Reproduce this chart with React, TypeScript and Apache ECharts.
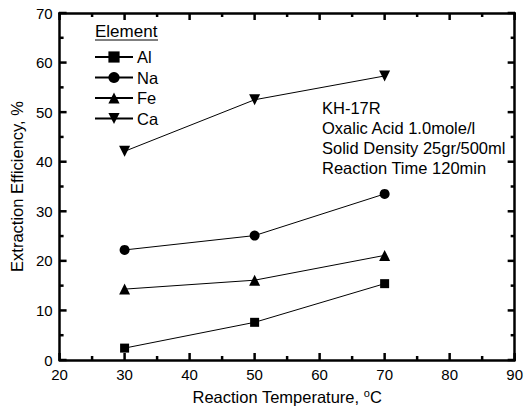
import React, { useEffect, useRef } from "react";
import * as echarts from "echarts";

const temperatures = [30, 50, 70];
const alValues = [2.4, 7.6, 15.4];
const naValues = [22.2, 25.1, 33.5];
const feValues = [14.3, 16.1, 21.1];
const caValues = [42.1, 52.5, 57.3];
const xMajorTicks = [20, 30, 40, 50, 60, 70, 80, 90];
const xMinorTicks = [25, 35, 45, 55, 65, 75, 85];
const yMajorTicks = [0, 10, 20, 30, 40, 50, 60, 70];
const yMinorTicks = [5, 15, 25, 35, 45, 55, 65];
const annotationLines = [
  "KH-17R",
  "Oxalic Acid 1.0mole/l",
  "Solid Density 25gr/500ml",
  "Reaction Time 120min",
];

const FONT = "'Liberation Sans', Arial, sans-serif";
const X_MIN = 20, X_MAX = 90, Y_MIN = 0, Y_MAX = 70;

export default function App() {
  const ref = useRef<HTMLDivElement>(null);
  useEffect(() => {
    if (!ref.current) return;
    const chart = echarts.init(ref.current, null, { renderer: "svg" });
    const pair = (vals: number[]) => temperatures.map((t, i) => [t, vals[i]]);
    const axisParts = () => ({
      axisLine: { show: true, onZero: false, lineStyle: { color: "#000", width: 2.5 } },
      axisTick: { show: false },
      minorTick: { show: false },
      splitLine: { show: false },
    });
    const mk = (name: string, vals: number[], symbol: string, size: number, rotate = 0) => ({
      name,
      type: "line",
      data: pair(vals),
      symbol,
      symbolSize: size,
      symbolRotate: rotate,
      itemStyle: { color: "#000" },
      lineStyle: { color: "#000", width: 1 },
      z: 3,
    });
    const staticGraphics: any[] = [
      {
        type: "text",
        left: 95,
        top: 23,
        style: { text: "Element", fontSize: 17, fontFamily: FONT, fill: "#000" },
      },
      {
        type: "line",
        shape: { x1: 95, y1: 40, x2: 158, y2: 40 },
        style: { stroke: "#000", lineWidth: 1 },
      },
      ...annotationLines.map((t, i) => ({
        type: "text",
        left: 322,
        top: 99 + i * 20,
        style: { text: t, fontSize: 16.5, fontFamily: FONT, fill: "#000" },
      })),
    ];
    chart.setOption({
      animation: false,
      backgroundColor: "#fff",
      textStyle: { fontFamily: FONT },
      grid: { left: 53, right: 10, top: 13, bottom: 56 },
      xAxis: [
        {
          type: "value",
          min: X_MIN,
          max: X_MAX,
          interval: 10,
          position: "bottom",
          ...axisParts(),
          axisLabel: { color: "#000", fontSize: 15, fontFamily: FONT, margin: 7 },
          name: "Reaction Temperature, {sup|o}C",
          nameLocation: "middle",
          nameGap: 27,
          nameTextStyle: {
            color: "#000",
            fontSize: 16.5,
            fontFamily: FONT,
            rich: { sup: { fontSize: 11, verticalAlign: "top", padding: [0, 0, 8, 0], color: "#000", fontFamily: FONT } },
          },
        },
        {
          type: "value",
          min: X_MIN,
          max: X_MAX,
          interval: 10,
          position: "top",
          ...axisParts(),
          axisLabel: { show: false },
        },
      ],
      yAxis: [
        {
          type: "value",
          min: Y_MIN,
          max: Y_MAX,
          interval: 10,
          position: "left",
          ...axisParts(),
          axisLabel: { color: "#000", fontSize: 15, fontFamily: FONT, margin: 7 },
          name: "Extraction Efficiency, %",
          nameLocation: "middle",
          nameGap: 30,
          nameTextStyle: { color: "#000", fontSize: 16.5, fontFamily: FONT },
        },
        {
          type: "value",
          min: Y_MIN,
          max: Y_MAX,
          interval: 10,
          position: "right",
          ...axisParts(),
          axisLabel: { show: false },
        },
      ],
      legend: {
        orient: "vertical",
        left: 89,
        top: 43.5,
        itemWidth: 38,
        itemHeight: 14,
        itemGap: 3.5,
        textStyle: { color: "#000", fontSize: 16.5, lineHeight: 17, fontFamily: FONT, padding: [0, 0, 0, -1] },
        data: ["Al", "Na", "Fe", "Ca"],
      },
      graphic: staticGraphics,
      series: [
        mk("Al", alValues, "rect", 9),
        mk("Na", naValues, "circle", 10),
        mk("Fe", feValues, "triangle", 11),
        mk("Ca", caValues, "triangle", 11, 180),
      ],
    });

    // inward tick marks on all four sides, positioned through each axis's own scale
    try {
      const px = (v: number) => Number(chart.convertToPixel({ xAxisIndex: 0 }, v));
      const py = (v: number) => Number(chart.convertToPixel({ yAxisIndex: 0 }, v));
      const xLeft = px(X_MIN), xRight = px(X_MAX);
      const yBottom = py(Y_MIN), yTop = py(Y_MAX);
      const tickLines: any[] = [];
      const tstyle = { stroke: "#000", lineWidth: 2.5 };
      const addX = (v: number, len: number) => {
        const x = px(v);
        tickLines.push({ type: "line", z: 50, shape: { x1: x, y1: yBottom, x2: x, y2: yBottom - len }, style: tstyle });
        tickLines.push({ type: "line", z: 50, shape: { x1: x, y1: yTop, x2: x, y2: yTop + len }, style: tstyle });
      };
      const addY = (v: number, len: number) => {
        const y = py(v);
        tickLines.push({ type: "line", z: 50, shape: { x1: xLeft, y1: y, x2: xLeft + len, y2: y }, style: tstyle });
        tickLines.push({ type: "line", z: 50, shape: { x1: xRight, y1: y, x2: xRight - len, y2: y }, style: tstyle });
      };
      xMajorTicks.forEach((v) => addX(v, 7));
      xMinorTicks.forEach((v) => addX(v, 4));
      yMajorTicks.forEach((v) => addY(v, 7));
      yMinorTicks.forEach((v) => addY(v, 4));
      if (tickLines.every((l) => Number.isFinite(l.shape.x1) && Number.isFinite(l.shape.y1))) {
        chart.setOption({ graphic: [...staticGraphics, ...tickLines] }, { replaceMerge: ["graphic"] });
      }
    } catch (e) {
      // keep chart without extra ticks
    }

    return () => chart.dispose();
  }, []);
  return (
    <div
      ref={ref}
      style={{ position: "absolute", left: 0, top: 0, width: 526, height: 416 }}
    />
  );
}
